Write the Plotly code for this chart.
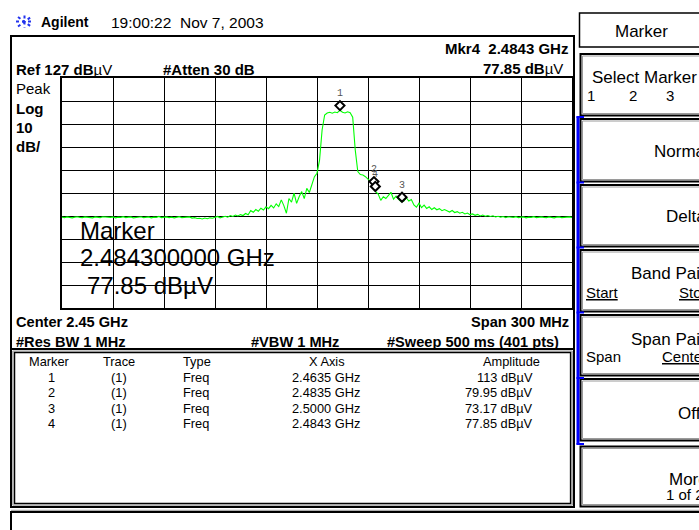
import numpy as np
import plotly.graph_objects as go

# ---------------- data ----------------
CENTER_GHZ = 2.45
SPAN_GHZ = 0.300
REF_LEVEL = 127.0          # dBuV, top of screen
DB_PER_DIV = 10.0
N_PTS = 201                # trace points

# trace amplitude (dBuV), left to right
TRACE_DBUV = [
    66.5, 66.3, 66.6, 66.4, 66.2, 66.5, 66.7, 66.4, 66.3, 66.6,
    66.4, 66.5, 66.2, 66.6, 66.4, 66.3, 66.7, 66.5, 66.3, 66.4,
    66.6, 66.2, 66.5, 66.4, 66.7, 66.3, 66.5, 66.6, 66.2, 66.4,
    66.5, 66.7, 66.3, 66.4, 66.6, 66.2, 66.5, 66.4, 66.8, 66.3,
    66.4, 66.6, 66.3, 66.5, 66.2, 66.4, 66.7, 66.3, 66.5, 66.4,
    66.6, 66.1, 66.3, 65.9, 66.0, 65.7, 66.1, 65.8, 66.2, 66.0,
    66.3, 66.8, 66.2, 66.6, 66.9, 66.5, 67.2, 66.8, 67.4, 67.0,
    67.6, 67.2, 68.1, 67.5, 69.4, 68.6, 69.8, 69.1, 70.4, 69.6,
    71.0, 70.2, 71.6, 70.5, 72.3, 71.1, 74.0, 71.5, 68.2, 74.6,
    73.0, 76.9, 72.5, 75.4, 77.6, 74.6, 79.0, 77.2, 81.0, 84.1,
    85.6, 91.3, 104.4, 110.9, 111.8, 112.1, 111.7, 112.2, 111.9, 113.0,
    112.1, 111.8, 112.3, 111.9, 110.0, 95.7, 86.3, 85.0, 84.8, 84.1,
    83.0, 82.0, 81.0, 77.6, 76.5, 73.8, 75.4, 74.6, 76.0, 77.3,
    74.3, 75.6, 74.2, 73.2, 73.4, 75.0, 73.5, 74.2, 71.8, 70.8,
    72.6, 70.6, 71.7, 70.3, 71.0, 69.8, 70.6, 69.7, 70.2, 69.3,
    69.8, 69.2, 68.7, 69.4, 68.5, 68.9, 68.2, 68.6, 67.9, 68.3,
    67.6, 67.9, 67.3, 67.7, 67.0, 67.4, 66.9, 67.2, 66.8, 67.1,
    66.6, 66.9, 66.5, 66.8, 66.3, 66.7, 66.5, 66.4, 66.7, 66.3,
    66.5, 66.6, 66.2, 66.5, 66.4, 66.7, 66.3, 66.5, 66.6, 66.4,
    66.3, 66.6, 66.4, 66.2, 66.5, 66.6, 66.3, 66.5, 66.4, 66.6,
    66.4,
]

MARKER_IDS = [1, 2, 3, 4]
MARKER_TRACE = ["(1)", "(1)", "(1)", "(1)"]
MARKER_TYPE = ["Freq", "Freq", "Freq", "Freq"]
MARKER_FREQ_GHZ = [2.4635, 2.4835, 2.5000, 2.4843]
MARKER_AMP_DBUV = [113, 79.95, 73.17, 77.85]
MARKER_AMP_TEXT = ["113", "79.95", "73.17", "77.85"]

SOFTKEYS = ["Normal", "Delta", "Band Pair", "Span Pair", "Off", "More"]

# sweep grid of the analyzer (evenly spaced points across the span)
f_start = CENTER_GHZ - SPAN_GHZ / 2
f_stop = CENTER_GHZ + SPAN_GHZ / 2
FREQ_GHZ = np.linspace(f_start, f_stop, N_PTS)

# ---------------- layout helpers ----------------
W, H = 699, 530
L, R, T, B = 62, 572, 78, 308
FONT = "Liberation Sans, Arial, sans-serif"
MONO = "Liberation Mono, Courier New, monospace"


def px(x):
    return (x - L) / (R - L)


def py(y):
    return (B - y) / (B - T)


annotations = []
shapes = []


def txt(x, y, text, size=15, anchor="left", color="black", family=FONT):
    annotations.append(dict(
        x=px(x), y=py(y), xref="paper", yref="paper", text=text,
        showarrow=False, xanchor=anchor, yanchor="middle",
        font=dict(family=family, size=size, color=color),
        borderpad=0,
    ))


def rect(x0, y0, x1, y1, color="black", width=2):
    shapes.append(dict(type="rect", xref="paper", yref="paper",
                       x0=px(x0), x1=px(x1), y0=py(y0), y1=py(y1),
                       line=dict(color=color, width=width), fillcolor="rgba(0,0,0,0)"))


def line(x0, y0, x1, y1, color="black", width=2, dash="solid"):
    shapes.append(dict(type="line", xref="paper", yref="paper",
                       x0=px(x0), x1=px(x1), y0=py(y0), y1=py(y1),
                       line=dict(color=color, width=width, dash=dash)))


MU = "\u00b5"

# ---------------- header ----------------
for (a, b, c, d) in [(16, 21.5, 33, 21.5), (24.5, 15.5, 24.5, 28),
                     (18, 17, 31, 26.5), (18, 26.5, 31, 17)]:
    line(a, b, c, d, color="#2233ee", width=2, dash="dot")
txt(40, 22, "<b>Agilent</b>", size=14)
txt(110, 22, "19:00:22  Nov 7, 2003", size=15.5)

# main screen box
rect(11, 36, 574, 349, width=2)

txt(15, 69, "<b>Ref 127 dB</b>" + MU + "V", size=15)
txt(161.5, 69, "<b>#Atten 30 dB</b>", size=15)
txt(568.5, 48, "<b>Mkr4  2.4843 GHz</b>", size=15, anchor="right")
txt(564, 68, "<b>77.85 dB</b>" + MU + "V", size=15, anchor="right")
txt(15, 88, "Peak", size=15)
txt(15, 108.5, "<b>Log</b>", size=15)
txt(15, 127.5, "<b>10</b>", size=15)
txt(15, 146.5, "<b>dB/</b>", size=15)

txt(15, 321.5, "<b>Center 2.45 GHz</b>", size=14.6)
txt(15, 342, "<b>#Res BW 1 MHz</b>", size=14.6)
txt(250, 342, "<b>#VBW 1 MHz</b>", size=14.6)
txt(569.5, 321.5, "<b>Span 300 MHz</b>", size=14.6, anchor="right")
txt(559.5, 341.5, "<b>#Sweep 500 ms (401 pts)</b>", size=14.6, anchor="right")

# big marker readout over the graticule
txt(79, 230, "Marker", size=24)
txt(79, 257.5, "2.484300000 GHz", size=24)
txt(86, 285, "77.85 dB" + MU + "V", size=24)

# ---------------- marker table ----------------
rect(11, 349, 574, 507, width=2)
rect(12.8, 351, 572.3, 505.2, color="#999999", width=1)
rect(14.5, 352.5, 570.6, 503.5, width=1.5)
TS = 12.8
txt(49.5, 361.5, "Marker", size=TS, anchor="center")
txt(118.5, 361.5, "Trace", size=TS, anchor="center")
txt(181.5, 361.5, "Type", size=TS)
txt(327, 361.5, "X Axis", size=TS, anchor="center")
txt(511, 361.5, "Amplitude", size=TS, anchor="center")
for k in range(len(MARKER_IDS)):
    yy = 377.5 + k * 15.3
    txt(51.5, yy, str(MARKER_IDS[k]), size=TS, anchor="center")
    txt(119.3, yy, MARKER_TRACE[k], size=TS, anchor="center")
    txt(181.5, yy, MARKER_TYPE[k], size=TS)
    txt(326, yy, "%.4f GHz" % MARKER_FREQ_GHZ[k], size=TS, anchor="center")
    txt(534, yy, MARKER_AMP_TEXT[k] + " dB" + MU + "V", size=TS, anchor="right")

# bottom status strip
line(11, 510.3, 720, 510.3, color="#999999", width=1)
rect(11, 512, 720, 560, width=2)

# ---------------- softkey panel ----------------
rect(579.5, 13, 720, 47, width=1.5)
txt(641.5, 31, "Marker", size=17, anchor="center")

KEY_BOXES = [(54, 115.5), (119, 181.5), (185, 246.5), (250, 311.5),
             (315, 375.5), (379, 440.5), (446.5, 506.5)]
for (y0, y1) in KEY_BOXES:
    rect(580.5, y0, 720, y1, width=2)
    rect(582.5, y0 + 2, 720, y1 - 2, color="#9a9a9a", width=1)

txt(590.5, 77, "Select Marker", size=17)
txt(586, 95, "1", size=15)
txt(628, 95, "2", size=15)
txt(665, 95, "3", size=15)
txt(653, 151.5, SOFTKEYS[0], size=17)
txt(665, 216.5, SOFTKEYS[1], size=17)
txt(629.5, 273, SOFTKEYS[2], size=17)
txt(585, 292.5, "<u>Start</u>", size=15)
txt(677.5, 292.5, "<u>Stop</u>", size=15)
txt(629.5, 339, SOFTKEYS[3], size=17)
txt(585, 356.5, "Span", size=15)
txt(661, 356.5, "<u>Center</u>", size=15)
txt(676.5, 413, SOFTKEYS[4], size=17)
txt(667.5, 479, SOFTKEYS[5], size=17)
txt(665, 494.5, "1 of 2", size=15)

# blue active bar with ticks
line(578, 116.5, 578, 444.5, color="#0000ff", width=3)
for yy in [117, 182.5, 247.5, 312.5, 378, 444]:
    line(576.5, yy, 584, yy, color="#0000ff", width=2)

# ---------------- traces ----------------
fig = go.Figure()
fig.add_trace(go.Scatter(
    x=FREQ_GHZ, y=TRACE_DBUV, mode="lines",
    line=dict(color="#00ff00", width=1.1), hoverinfo="skip", showlegend=False,
))

MARKER_LIFT_DB = 2.0  # diamonds are drawn just above the marker point
fig.add_trace(go.Scatter(
    x=MARKER_FREQ_GHZ, y=[a + MARKER_LIFT_DB for a in MARKER_AMP_DBUV],
    mode="markers",
    marker=dict(symbol="diamond", size=7, color="white",
                line=dict(color="black", width=2)),
    showlegend=False, hoverinfo="skip",
))
for k in range(len(MARKER_IDS)):
    annotations.append(dict(
        x=MARKER_FREQ_GHZ[k], y=MARKER_AMP_DBUV[k], xref="x", yref="y",
        text=str(MARKER_IDS[k]), showarrow=False, yshift=16.5,
        font=dict(family=MONO, size=10, color="#555555"),
    ))

fig.update_layout(
    width=W, height=H,
    margin=dict(l=L, r=W - R, t=T, b=H - B, pad=0),
    paper_bgcolor="white", plot_bgcolor="white",
    xaxis=dict(range=[f_start, f_stop], tick0=f_start, dtick=SPAN_GHZ / 10,
               showgrid=True, gridcolor="black", gridwidth=1.4,
               showticklabels=False, ticks="", zeroline=False,
               showline=True, mirror=True, linecolor="black", linewidth=2),
    yaxis=dict(range=[REF_LEVEL - 10 * DB_PER_DIV, REF_LEVEL], tick0=REF_LEVEL,
               dtick=DB_PER_DIV, showgrid=True, gridcolor="black", gridwidth=1.4,
               showticklabels=False, ticks="", zeroline=False,
               showline=True, mirror=True, linecolor="black", linewidth=2),
    annotations=annotations, shapes=shapes,
    font=dict(family=FONT),
)

fig.write_html(
    "out.html",
    config={"displayModeBar": False},
    post_script="document.body.style.margin='0';document.body.style.overflow='hidden';",
)
